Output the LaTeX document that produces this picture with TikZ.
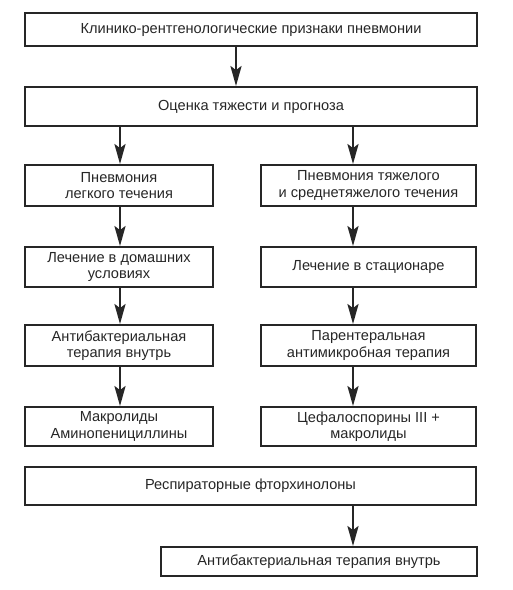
\documentclass[tikz,border=0pt]{standalone}
\usepackage{fontspec}
\setmainfont{Liberation Sans}
\usetikzlibrary{arrows.meta}
\begin{document}
\begin{tikzpicture}[x=1pt,y=-1pt,
  box/.style={draw=black!85,line width=1.8pt,inner sep=0pt,align=center,font=\fontsize{14.6}{16.5}\selectfont,text=black!85},
  arr/.style={draw=black!85,line width=2.8pt,-{Stealth[length=20pt,width=11pt,inset=4pt]}}]
\useasboundingbox (0,0) rectangle (513,590);
\newcommand{\bx}[6]{\node[box,minimum width=#4-#2,minimum height=#5-#3] (#1) at ({(#2+#4)/2},{(#3+#5)/2}) {#6};}
\bx{a}{25}{13}{477}{46}{Клинико-рентгенологические признаки пневмонии}
\bx{b}{25}{87}{477}{126}{Оценка тяжести и прогноза}
\bx{l1}{25}{165}{213}{206}{Пневмония\\легкого течения}
\bx{r1}{261}{165}{476}{206}{Пневмония тяжелого\\и среднетяжелого течения}
\bx{l2}{25}{247}{213}{287}{Лечение в домашних\\условиях}
\bx{r2}{261}{247}{476}{287}{Лечение в стационаре}
\bx{l3}{25}{325}{213}{366}{Антибактериальная\\терапия внутрь}
\bx{r3}{261}{325}{476}{366}{Парентеральная\\антимикробная терапия}
\bx{l4}{25}{407}{213}{446}{Макролиды\\Аминопенициллины}
\bx{r4}{261}{407}{476}{446}{Цефалоспорины III +\\макролиды}
\bx{f}{25}{467}{476}{505}{Респираторные фторхинолоны}
\bx{g}{161}{547}{477}{576}{Антибактериальная терапия внутрь}
\coordinate (xm) at (236,0);
\coordinate (xl) at (120,0);
\coordinate (xr) at (353,0);
\draw[arr] (a.south -| xm) -- (b.north -| xm);
\draw[arr] (b.south -| xl) -- (l1.north -| xl);
\draw[arr] (b.south -| xr) -- (r1.north -| xr);
\draw[arr] (l1.south -| xl) -- (l2.north -| xl);
\draw[arr] (r1.south -| xr) -- (r2.north -| xr);
\draw[arr] (l2.south -| xl) -- (l3.north -| xl);
\draw[arr] (r2.south -| xr) -- (r3.north -| xr);
\draw[arr] (l3.south -| xl) -- (l4.north -| xl);
\draw[arr] (r3.south -| xr) -- (r4.north -| xr);
\draw[arr] (f.south -| xr) -- (g.north -| xr);
\end{tikzpicture}
\end{document}
